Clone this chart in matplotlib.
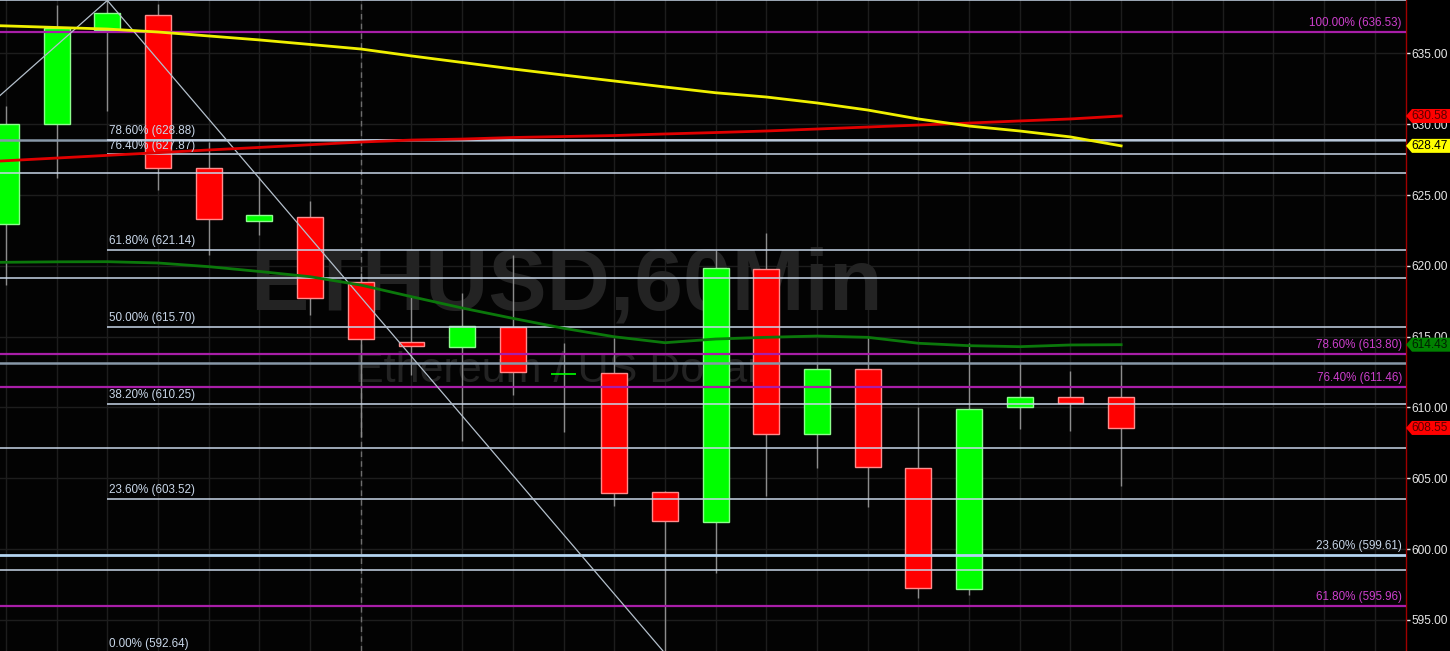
import numpy as np
import matplotlib
matplotlib.use("Agg")
import matplotlib.pyplot as plt
from matplotlib.transforms import blended_transform_factory
from matplotlib.patches import Polygon

plt.rcParams['font.family'] = ['Liberation Sans', 'DejaVu Sans']

# ---------------- data ----------------
idx = list(range(23))
opens = [622.93, 629.99, 636.65, 637.73, 626.89, 623.14, 623.43, 618.84, 614.64, 614.29, 615.70, 612.38,
         612.41, 604.05, 601.93, 619.75, 608.10, 612.69, 605.70, 597.18, 610.01, 610.76, 610.71]
closes = [629.99, 636.77, 637.83, 626.89, 623.28, 623.57, 617.70, 614.85, 614.36, 615.77, 612.52, 612.42,
          603.98, 601.98, 619.87, 608.12, 612.69, 605.77, 597.27, 609.89, 610.76, 610.29, 608.55]
highs = [631.28, 638.42, 638.74, 638.49, 628.76, 626.29, 624.60, 619.49, 617.82, 618.06, 620.76, 614.57,
         614.88, 604.10, 621.12, 622.34, 613.19, 615.04, 610.05, 614.57, 613.11, 612.57, 612.99]
lows = [618.64, 626.22, 630.93, 625.35, 620.76, 622.18, 616.53, 607.91, 612.29, 607.63, 610.88, 608.24,
        603.04, 592.64, 598.28, 603.76, 605.70, 602.99, 596.52, 596.75, 608.45, 608.35, 604.47]

ma_idx = list(range(-1, 23))
ma_yellow = [637.04, 636.94, 636.83, 636.72, 636.51, 636.23, 635.95, 635.63, 635.31, 634.82, 634.36, 633.90,
             633.47, 633.05, 632.63, 632.22, 631.92, 631.50, 631.00, 630.37, 629.87, 629.52, 629.10, 628.47]
ma_red = [627.24, 627.42, 627.61, 627.80, 627.99, 628.18, 628.36, 628.55, 628.74, 628.88, 628.95, 629.06,
          629.13, 629.20, 629.31, 629.41, 629.52, 629.66, 629.80, 629.94, 630.08, 630.23, 630.37, 630.58]
ma_green = [620.23, 620.25, 620.28, 620.29, 620.20, 619.94, 619.60, 619.23, 618.64, 617.82, 617.02, 616.29,
            615.59, 614.99, 614.57, 614.83, 614.95, 615.04, 614.95, 614.53, 614.36, 614.29, 614.41, 614.43]

# left Fibonacci set (drawn from candle 2 rightwards)
fib_left_start = 2
fib_left_pct = ["78.60%", "76.40%", "61.80%", "50.00%", "38.20%", "23.60%", "0.00%"]
fib_left_val = [628.88, 627.87, 621.14, 615.70, 610.25, 603.52, 592.64]
fib_left_high = 638.74

# right Fibonacci set (magenta, full width)
fib_right_pct = ["100.00%", "78.60%", "76.40%", "61.80%"]
fib_right_val = [636.53, 613.80, 611.46, 595.96]

# other horizontal lines
plain_levels = [638.74, 626.57, 619.12, 607.10, 598.50]
gray_levels = [628.88, 613.16]
blue_level = 599.61
blue_label = "23.60%"

# trendline anchor points (index, price)
trend_x = [-1, 2, 13]
trend_y = [629.23, 638.74, 592.64]

day_sep = 7

tags = [(630.58, '#ff0000', '#5a0000'), (628.47, '#ffff00', '#000000'),
        (614.43, '#008000', '#002000'), (608.55, '#ff0000', '#5a0000')]

# ---------------- figure ----------------
W, H = 1450, 651
fig = plt.figure(figsize=(W / 100, H / 100), dpi=100, facecolor='#000000')
ax = fig.add_axes([0, 0, 1406 / W, 1])
ax.set_facecolor('#030303')
ax.set_xlim(-0.118, 27.62)
ax.set_ylim(592.80, 638.77)

# grid
ax.set_yticks(np.arange(595, 640, 5))
ax.set_xticks(range(0, 28))
ax.grid(True, color='#1d1d1d', lw=1, zorder=0)
ax.set_axisbelow(True)
ax.tick_params(axis='x', length=0, labelbottom=False)
ax.yaxis.tick_right()
ax.tick_params(axis='y', colors='#e6e6e6', labelsize=8.6, length=3, width=1, pad=1)
ax.yaxis.set_major_formatter(matplotlib.ticker.FormatStrFormatter('%.2f'))
for s in ['left', 'top', 'bottom']:
    ax.spines[s].set_visible(False)
ax.spines['right'].set_color('#a00000')
ax.spines['right'].set_linewidth(1)

# watermark
ax.text(0.403, 0.559, "ETHUSD,60Min", transform=ax.transAxes, ha='center', va='center',
        fontsize=63, fontweight='bold', color='#232323', zorder=0.8)
ax.text(0.397, 0.43, "Ethereum / US Dollar", transform=ax.transAxes, ha='center', va='center',
        fontsize=31, color='#232323', zorder=0.8)

# day separator
ax.axvline(day_sep, color='#6e6e6e', lw=1, ls=(0, (4, 3)), zorder=1)

# candles
bw = 0.51
for i, o, c, h, l in zip(idx, opens, closes, highs, lows):
    ax.vlines(i, l, h, color='#8c8c8c', lw=1, zorder=2)
    up = c >= o
    fc = '#00ff00' if up else '#ff0000'
    ec = '#8cff8c' if up else '#ff8c8c'
    hgt = c - o
    if abs(hgt) < 0.08:
        ax.hlines(o, i - bw / 2, i + bw / 2, color=fc, lw=1.2, zorder=3)
    else:
        ax.bar(i, hgt, bottom=o, width=bw, color=fc, edgecolor=ec, lw=1, zorder=3)

# horizontal lines
light = '#c8d6e8'
for v in plain_levels:
    ax.axhline(v, color=light, lw=1.1, zorder=4)
for v in gray_levels:
    ax.axhline(v, color='#8898a8', lw=1.8, zorder=4)
ax.axhline(blue_level, color='#b4d4f0', lw=2, zorder=4)
ax.hlines(fib_left_val, fib_left_start, 27.62, color=light, lw=1.1, zorder=4)
for v in fib_right_val:
    ax.axhline(v, color='#a81ea8', lw=1.6, zorder=4)

# trendline
ax.plot(trend_x, trend_y, color='#b4c0cc', lw=0.9, zorder=4)

# moving averages
ax.plot(ma_idx, ma_green, color='#0b780b', lw=2, zorder=5)
ax.plot(ma_idx, ma_red, color='#e00000', lw=2, zorder=5)
ax.plot(ma_idx, ma_yellow, color='#f0f000', lw=2, zorder=5)

# fib labels
fs = 8.4
for p, v in zip(fib_left_pct, fib_left_val):
    ax.annotate(f"{p} ({v:.2f})", (fib_left_start, v), xytext=(1.5, 2), textcoords='offset points',
                ha='left', va='bottom', fontsize=fs, color=light, zorder=6, annotation_clip=False)
for p, v in zip(fib_right_pct, fib_right_val):
    ax.annotate(f"{p} ({v:.2f})", (1.0, v), xycoords=('axes fraction', 'data'), xytext=(-3, 2),
                textcoords='offset points', ha='right', va='bottom', fontsize=fs, color='#cc3fcc', zorder=6)
ax.annotate(f"{blue_label} ({blue_level:.2f})", (1.0, blue_level), xycoords=('axes fraction', 'data'),
            xytext=(-3, 2), textcoords='offset points', ha='right', va='bottom', fontsize=fs,
            color=light, zorder=6)

# price tags
tr = blended_transform_factory(ax.transAxes, ax.transData)
px_x = 1.0 / 1406
px_y = (638.77 - 592.80) / H
for v, bg, fg in tags:
    ax.add_patch(Polygon([(1.0, v), (1.0 + 6 * px_x, v + 7 * px_y), (1.0 + 44 * px_x, v + 7 * px_y),
                          (1.0 + 44 * px_x, v - 7 * px_y), (1.0 + 6 * px_x, v - 7 * px_y)],
                         closed=True, transform=tr, facecolor=bg, edgecolor='none', clip_on=False, zorder=7))
    ax.text(1.0 + 5 * px_x, v, f"{v:.2f}", transform=tr, ha='left', va='center', fontsize=8.6,
            color=fg, zorder=8, clip_on=False)

fig.savefig("out.png", dpi=100, facecolor=fig.get_facecolor())
